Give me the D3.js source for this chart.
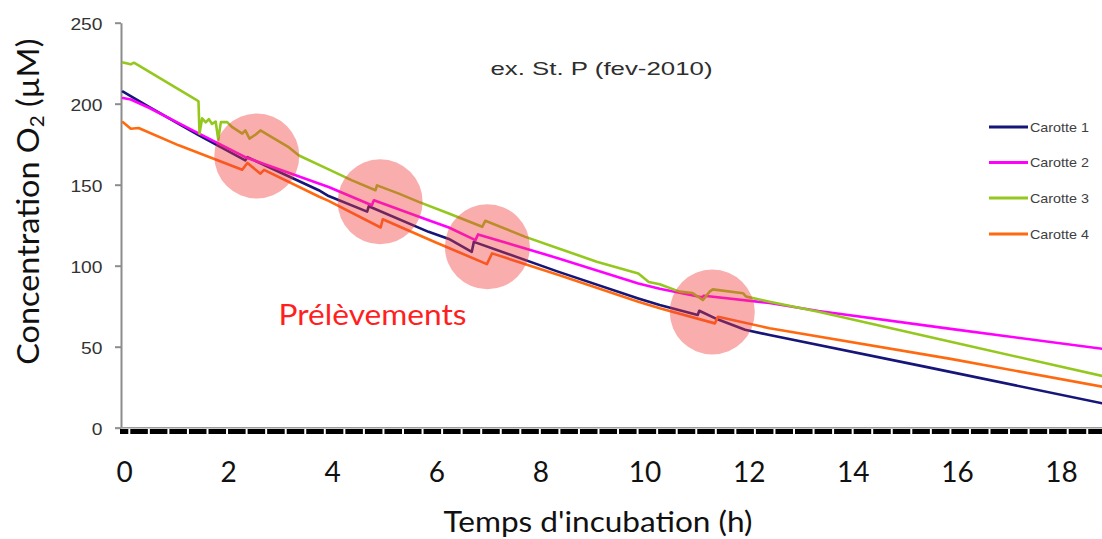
<!DOCTYPE html>
<html>
<head>
<meta charset="utf-8">
<script src="https://cdn.jsdelivr.net/npm/d3@7"></script>
<style>
  html, body { margin: 0; padding: 0; background: #fff; }
  svg { display: block; }
</style>
</head>
<body>
<svg id="chart" width="1102" height="539"></svg>
<script>
// O2 concentration over incubation time, four cores (St. P, Feb 2010)
const hourTicks = [0, 2, 4, 6, 8, 10, 12, 14, 16, 18];
const oxygenTicks = [0, 50, 100, 150, 200, 250];
const seriesNames = ["Carotte 1", "Carotte 2", "Carotte 3", "Carotte 4"];

// [hours, µM]
const carotte1 = [
  [0, 207.5], [0.5, 198], [1.07, 187.5], [1.46, 180.5], [2.35, 165], [2.39, 167],
  [3.76, 146.6], [3.95, 143], [4.69, 133.4], [4.72, 136.7], [5.87, 120.9], [6.26, 116.5],
  [6.70, 108.6], [6.74, 114.7], [8.37, 96.2], [9.9, 79.8], [10.31, 75.7], [11.04, 69.6],
  [11.07, 72.2], [11.42, 66.9], [11.95, 60.5], [12.42, 57.2], [15.4, 37.7], [18.81, 15.1]
];
const carotte2 = [
  [0, 203.5], [0.15, 202.6], [0.5, 197.5], [1.07, 188], [1.46, 181.5], [2.35, 167],
  [3.76, 150.7], [3.95, 148.6], [4.78, 137.3], [4.82, 140.4], [5.87, 128.1], [6.26, 123.6],
  [6.77, 115.8], [6.82, 119.3], [8.37, 104.5], [9.9, 89], [10.31, 85.8], [11.12, 80.5],
  [11.16, 81.5], [12.42, 77], [13.36, 72], [15.9, 61], [18.81, 48.7]
];
const carotte3 = [
  [0, 225.5], [0.15, 224.3], [0.21, 225.3], [1.40, 202.5], [1.45, 201.5], [1.47, 181.5],
  [1.52, 191], [1.59, 188.5], [1.65, 190.5], [1.71, 187.5], [1.78, 189], [1.83, 177.8],
  [1.88, 188.6], [2.00, 188.6], [2.10, 185.5], [2.29, 181.5], [2.35, 183.5], [2.43, 178.4],
  [2.55, 181], [2.64, 183.5], [2.80, 180.5], [3.19, 173], [3.38, 168], [3.95, 159.5],
  [4.40, 152.7], [4.85, 146.6], [4.88, 149.6], [5.30, 144.5], [5.68, 139.4], [6.26, 132.2],
  [6.90, 124], [6.96, 127.7], [7.73, 117.8], [8.37, 110.6], [9.1, 102.5], [9.9, 95.2],
  [10.1, 90], [10.31, 88.5], [10.69, 84], [10.94, 83.1], [11.14, 78.8], [11.27, 84],
  [11.33, 85.4], [11.91, 83], [11.97, 80.9], [12.42, 77.8], [13.36, 71.6], [15.9, 53],
  [18.81, 32]
];
const carotte4 = [
  [0, 188.6], [0.15, 184.5], [0.3, 185], [1.07, 174.3], [2.29, 159.2], [2.39, 163.4],
  [2.64, 156.8], [2.71, 159.2], [3.76, 142.7], [3.95, 140], [4.95, 123.6], [4.99, 128.7],
  [6.0, 114.5], [6.99, 101], [7.09, 107.6], [8.37, 94.2], [9.9, 77.8], [10.31, 73.7],
  [11.37, 64.4], [11.43, 68.5], [12.42, 61.4], [15.9, 42.5], [18.81, 25.3]
];

// sampling events (Prélèvements)
const samplingHours = [2.57, 4.94, 7.0, 11.32];
const samplingLevels = [167.7, 139.5, 111.7, 71.4];

const seriesData = [carotte1, carotte2, carotte3, carotte4];
const seriesColors = ["#15157a", "#ff00ff", "#94c81e", "#ff6a10"];

const svg = d3.select("#chart");

const x = d3.scaleLinear().domain([0, 18]).range([123, 1060]);
const y = d3.scaleLinear().domain([0, 250]).range([427.7, 22.7]);

// y axis
const yAxis = d3.axisLeft(y).tickValues(oxygenTicks).tickSize(6).tickSizeOuter(0);
const gy = svg.append("g").attr("transform", "translate(121,0)").call(yAxis);
gy.select(".domain").attr("stroke", "#8c8c8c").attr("stroke-width", 2);
gy.selectAll(".tick line").attr("stroke", "#8c8c8c").attr("stroke-width", 2);
gy.selectAll(".tick text")
  .attr("x", -18.5)
  .attr("dy", null)
  .attr("y", 7)
  .attr("fill", "#333")
  .attr("font-family", "Liberation Sans, Arial, sans-serif")
  .attr("font-size", 16)
  .attr("textLength", d => String(d).length * 10.7)
  .attr("lengthAdjust", "spacingAndGlyphs");

// horizontal baseline
svg.append("line")
  .attr("x1", 115).attr("x2", 1102)
  .attr("y1", y(0)).attr("y2", y(0))
  .attr("stroke", "#9a9a9a").attr("stroke-width", 1.5);

// heavy dashed time axis band
svg.append("line")
  .attr("x1", 120).attr("x2", 1102)
  .attr("y1", 431.5).attr("y2", 431.5)
  .attr("stroke", "#000").attr("stroke-width", 5)
  .attr("stroke-dasharray", "17.55,2")
  .attr("stroke-dashoffset", 9.25);

// x axis labels
const xAxis = d3.axisBottom(x).tickValues(hourTicks).tickSize(0).tickPadding(0);
const gx = svg.append("g").attr("transform", "translate(1,0)").call(xAxis);
gx.select(".domain").remove();
gx.selectAll(".tick text")
  .attr("y", 481.5)
  .attr("dy", null)
  .attr("fill", "#111")
  .attr("font-family", "Lato, 'Open Sans', sans-serif")
  .attr("font-size", 28);

// series lines
const line = d3.line().x(d => x(d[0])).y(d => y(d[1]));
svg.append("g").selectAll("path")
  .data(seriesData)
  .join("path")
  .attr("d", line)
  .attr("fill", "none")
  .attr("stroke", (d, i) => seriesColors[i])
  .attr("stroke-width", 2.6)
  .attr("stroke-linejoin", "round")
  .attr("stroke-linecap", "round");

// sampling markers
svg.append("g").selectAll("circle")
  .data(samplingHours)
  .join("circle")
  .attr("cx", d => x(d))
  .attr("cy", (d, i) => y(samplingLevels[i]))
  .attr("r", 42.5)
  .attr("fill", "rgba(240,60,60,0.42)");

// legend
const legend = svg.append("g");
const legendY = [127, 162.5, 198, 234];
seriesNames.forEach((name, i) => {
  legend.append("line")
    .attr("x1", 989).attr("x2", 1028)
    .attr("y1", legendY[i]).attr("y2", legendY[i])
    .attr("stroke", seriesColors[i]).attr("stroke-width", 3);
  legend.append("text")
    .attr("x", 1030).attr("y", legendY[i] + 4.8)
    .attr("fill", "#404040")
    .attr("font-family", "Liberation Sans, Arial, sans-serif")
    .attr("font-size", 13)
    .attr("textLength", 59)
    .attr("lengthAdjust", "spacingAndGlyphs")
    .text(name);
});

// title
svg.append("text")
  .attr("x", 601.5).attr("y", 75)
  .attr("text-anchor", "middle")
  .attr("fill", "#2e2e2e")
  .attr("font-family", "Liberation Sans, Arial, sans-serif")
  .attr("font-size", 19)
  .attr("textLength", 222)
  .attr("lengthAdjust", "spacingAndGlyphs")
  .text("ex. St. P (fev-2010)");

// annotation
svg.append("text")
  .attr("x", 372.5).attr("y", 325)
  .attr("text-anchor", "middle")
  .attr("fill", "#ff1f1f")
  .attr("font-family", "Lato, 'Open Sans', sans-serif")
  .attr("font-size", 28)
  .attr("textLength", 188)
  .attr("lengthAdjust", "spacingAndGlyphs")
  .text("Prélèvements");

// axis titles
svg.append("text")
  .attr("x", 598).attr("y", 531.5)
  .attr("text-anchor", "middle")
  .attr("fill", "#111")
  .attr("font-family", "Lato, 'Open Sans', sans-serif")
  .attr("font-size", 28)
  .attr("textLength", 309)
  .attr("lengthAdjust", "spacingAndGlyphs")
  .text("Temps d'incubation (h)");

const yTitle = svg.append("text")
  .attr("transform", "translate(39,201.7) rotate(-90)")
  .attr("text-anchor", "middle")
  .attr("fill", "#111")
  .attr("font-family", "Lato, 'Open Sans', sans-serif")
  .attr("font-size", 30)
  .attr("textLength", 326)
  .attr("lengthAdjust", "spacingAndGlyphs");
yTitle.append("tspan").text("Concentration O");
yTitle.append("tspan").attr("font-size", 19).attr("dy", 5).text("2");
yTitle.append("tspan").attr("dy", -5).text(" (µM)");
</script>
</body>
</html>
